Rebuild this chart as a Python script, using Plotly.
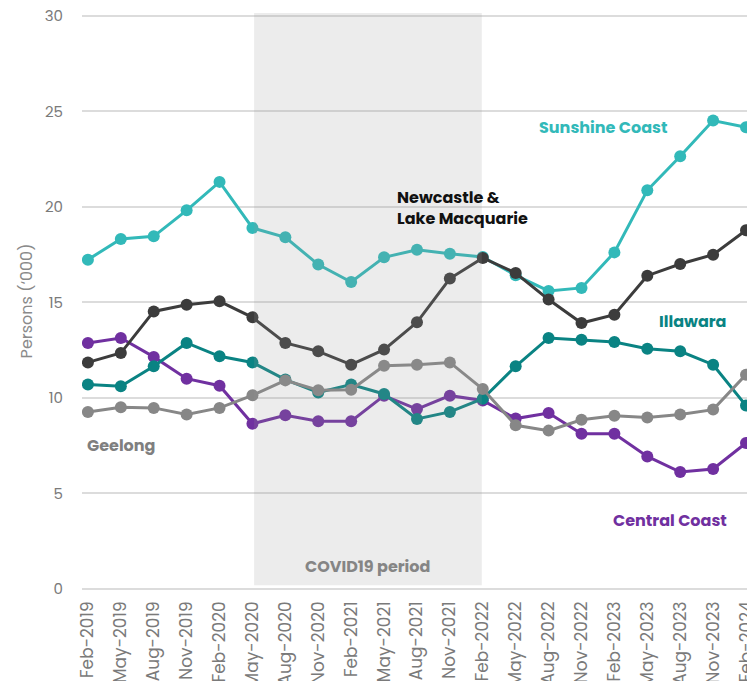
import plotly.graph_objects as go

# Quarterly periods
quarters = [
    "Feb-2019", "May-2019", "Aug-2019", "Nov-2019",
    "Feb-2020", "May-2020", "Aug-2020", "Nov-2020",
    "Feb-2021", "May-2021", "Aug-2021", "Nov-2021",
    "Feb-2022", "May-2022", "Aug-2022", "Nov-2022",
    "Feb-2023", "May-2023", "Aug-2023", "Nov-2023",
    "Feb-2024",
]

# Persons ('000) by region
central_coast = [12.88, 13.14, 12.15, 11.01, 10.64, 8.65, 9.09, 8.78, 8.78, 10.12,
                 9.42, 10.12, 9.87, 8.92, 9.21, 8.13, 8.13, 6.94, 6.12, 6.28, 7.64]
illawara = [10.70, 10.61, 11.66, 12.88, 12.18, 11.86, 10.96, 10.29, 10.70, 10.21,
            8.90, 9.27, 9.96, 11.66, 13.14, 13.05, 12.93, 12.58, 12.44, 11.74, 9.60]
geelong = [9.27, 9.51, 9.48, 9.13, 9.48, 10.14, 10.92, 10.40, 10.43, 11.69,
           11.74, 11.86, 10.47, 8.57, 8.29, 8.86, 9.07, 8.98, 9.13, 9.39, 11.22]
sunshine_coast = [17.24, 18.32, 18.46, 19.82, 21.31, 18.90, 18.41, 16.98, 16.07, 17.36,
                  17.76, 17.55, 17.38, 16.42, 15.60, 15.76, 17.62, 20.87, 22.65, 24.52, 24.17]
newcastle = [11.86, 12.35, 14.53, 14.88, 15.06, 14.22, 12.88, 12.44, 11.74, 12.53,
             13.96, 16.25, 17.33, 16.54, 15.15, 13.92, 14.36, 16.40, 17.01, 17.50, 18.78]

FONT = "Poppins, 'Open Sans', sans-serif"

series = [
    ("Central Coast", central_coast, "#7030a0"),
    ("Illawara", illawara, "#0a8383"),
    ("Geelong", geelong, "#878787"),
    ("Sunshine Coast", sunshine_coast, "#32b9b9"),
    ("Newcastle & Lake Macquarie", newcastle, "#3c3c3c"),
]

fig = go.Figure()
idx = list(range(len(quarters)))
for name, values, color in series:
    fig.add_trace(go.Scatter(
        x=idx, y=values, name=name, mode="lines+markers",
        line=dict(color=color, width=3),
        marker=dict(color=color, size=12),
        hoverinfo="skip",
    ))

# COVID19 period band, drawn over the lines
fig.add_shape(
    type="rect", xref="x", yref="y",
    x0=5.05, x1=11.97, y0=0.2, y1=30.15,
    fillcolor="rgba(148,148,148,0.18)", line_width=0, layer="above",
)

def label(text, x, y, color, xanchor="center"):
    fig.add_annotation(
        x=x, y=y, xref="x", yref="y", text=text, showarrow=False,
        xanchor=xanchor, yanchor="middle", align="left",
        font=dict(family=FONT, size=16, color=color, weight="bold"),
    )

label("Sunshine Coast", 15.68, 24.15, "#32b9b9")
label("Newcastle &<br>Lake Macquarie", 9.33, 19.94, "#111111", xanchor="left")
label("Illawara", 18.36, 14.01, "#0a8383")
label("Central Coast", 17.69, 3.58, "#7030a0")
label("Geelong", -0.1, 7.52, "#7f7f7f", xanchor="left")
label("COVID19 period", 8.5, 1.18, "#858585")

fig.update_layout(
    width=747, height=681,
    margin=dict(l=82, r=0, t=13, b=92, autoexpand=False),
    paper_bgcolor="white", plot_bgcolor="white",
    showlegend=False,
    font=dict(family=FONT, color="#7a7a7a"),
    xaxis=dict(
        range=[-0.18, 20.03], automargin=False,
        tickmode="array", tickvals=idx, ticktext=quarters,
        tickangle=-90, tickfont=dict(size=17, color="#7a7a7a"),
        ticklabeloverflow="allow", ticklabelstandoff=8,
        showgrid=False, zeroline=False, showline=False, ticks="",
    ),
    yaxis=dict(
        range=[0, 30.15], tickvals=[0, 5, 10, 15, 20, 25, 30], automargin=False,
        tickfont=dict(size=15, color="#7a7a7a"),
        showgrid=True, gridcolor="#dcdcdc", gridwidth=1.5,
        zeroline=True, zerolinecolor="#dcdcdc", zerolinewidth=1.5,
        showline=False, ticks="", ticklabelstandoff=18,
        title=dict(text="Persons (\u2018000)", font=dict(size=16, color="#8a8a8a"), standoff=8),
    ),
)

fig.write_html("out.html")
